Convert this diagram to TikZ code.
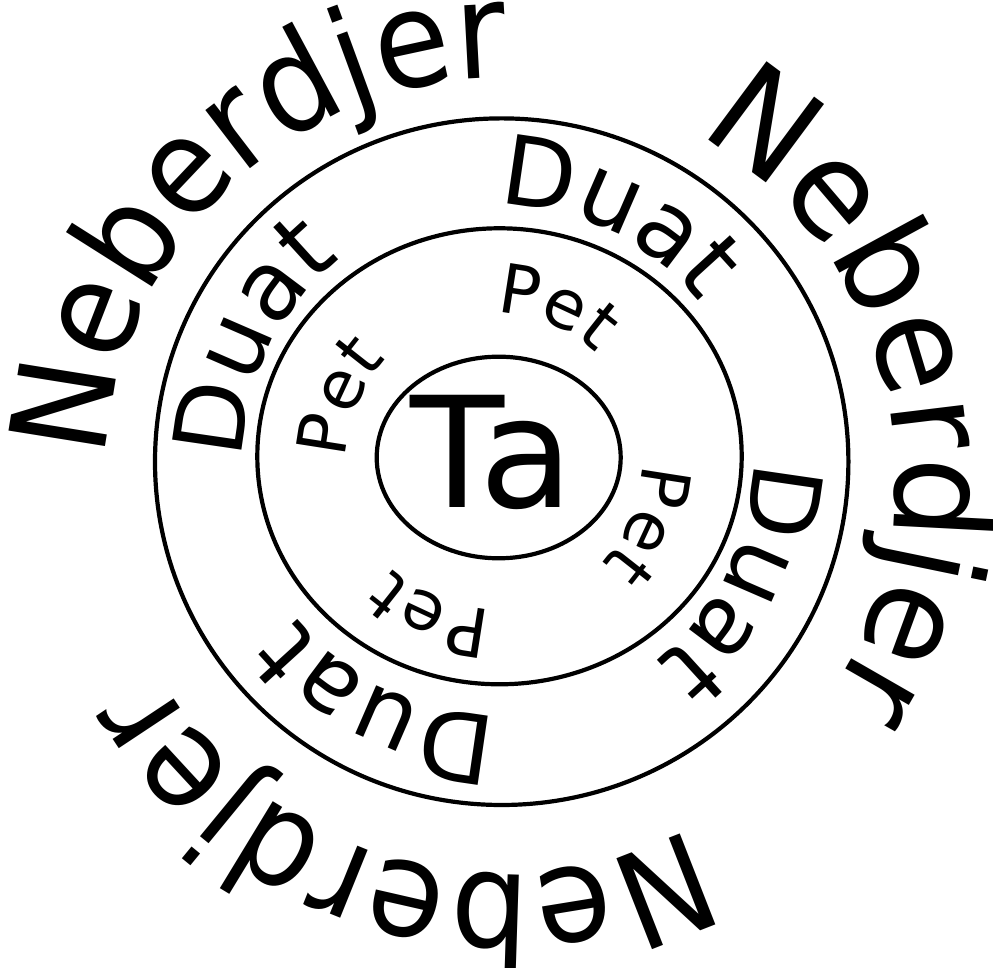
\documentclass[tikz,border=0pt]{standalone}
\usepackage{fontspec}
\setmainfont{DejaVu Sans}
\newfontfamily\nebfam[FakeStretch=0.92]{DejaVu Sans}
\newfontfamily\nebwidefam[FakeStretch=0.97]{DejaVu Sans}
\usetikzlibrary{decorations.text}
\newcommand\nebfont{\nebfam\fontsize{134}{134}\selectfont}
\newcommand\nebwidefont{\nebwidefam\fontsize{134}{134}\selectfont}
\newcommand\duafont{\fontsize{96}{96}\selectfont}
\newcommand\petfont{\fontsize{68}{68}\selectfont}
\newcommand\tafont{\fontsize{154}{154}\selectfont}
\tikzset{
  ring/.style={draw=black, line width=4.2pt},
  neb/.style={decorate, decoration={text along path, text align=left, text={|\nebfont|Neberdjer}}},
  nebwide/.style={decorate, decoration={text along path, text align=left, text={|\nebwidefont|Neberdjer}}},
  dua/.style={decorate, decoration={text along path, text align=left, text={|\duafont|Duat}}},
  pet/.style={decorate, decoration={text along path, text align=left, text={|\petfont|Pet}}},
}
\begin{document}
\begin{tikzpicture}
\useasboundingbox (0pt,0pt) rectangle (993pt,968pt);
\coordinate (CO) at (501.7pt,506.3pt);
\coordinate (CM) at (499.5pt,511.7pt);
\coordinate (CI) at (498.7pt,510.5pt);
\coordinate (CN) at (504pt,492pt);
\coordinate (CD) at (498pt,508pt);
\coordinate (CP) at (494pt,507pt);
% rings
\draw[ring] (CO) ellipse [x radius=346.7pt, y radius=343.3pt];
\draw[ring] (CM) ellipse [x radius=242.2pt, y radius=228pt];
\draw[ring] (CI) ellipse [x radius=122pt, y radius=100.8pt];
% centre
\node[font=\tafont, anchor=base, inner sep=0pt] (ta) at (492pt,460pt) {Ta};
% Neberdjer
\path[neb] (CN) ++(177.5:398pt) arc[start angle=177.5, end angle=72.5, radius=398pt];
\path[nebwide] (CN) ++(60.5:392pt) arc[start angle=60.5, end angle=-49.5, radius=392pt];
\path[neb] (CN) ++(-62:398pt) arc[start angle=-62, end angle=-167, radius=398pt];
% Duat
\foreach \a in {180,90,0,-90}{
  \path[dua] (CD) ++(\a:255pt) arc[start angle=\a, end angle=\a-70, radius=255pt];
}
% Pet
\foreach \a in {179,89,-1,-91}{
  \path[pet] (CP) ++(\a:148pt) arc[start angle=\a, end angle=\a-70, radius=148pt];
}
\end{tikzpicture}
\end{document}
